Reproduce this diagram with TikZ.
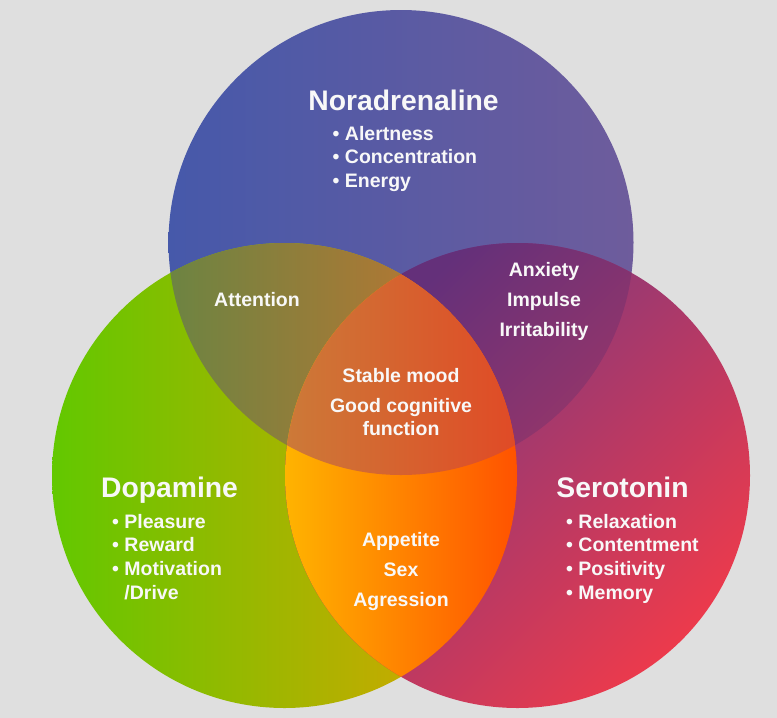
\documentclass[tikz,border=0pt]{standalone}
\usepackage{fontspec}
\setmainfont{Liberation Sans}
\usetikzlibrary{positioning}

% 色の定義
\definecolor{bgGray}{RGB}{223,223,223}
\definecolor{norLeft}{RGB}{70,89,170}
\definecolor{norRight}{RGB}{110,92,156}
\definecolor{dopLeft}{RGB}{98,200,0}
\definecolor{dopRight}{RGB}{226,162,0}
\definecolor{serTop}{RGB}{108,56,134}
\definecolor{serBottom}{RGB}{236,58,76}
\definecolor{ndLeft}{RGB}{108,132,66}
\definecolor{ndRight}{RGB}{174,120,52}
\definecolor{nsTop}{RGB}{100,48,122}
\definecolor{nsBottom}{RGB}{154,54,104}
\definecolor{dsLeft}{RGB}{255,180,0}
\definecolor{dsRight}{RGB}{255,82,0}
\definecolor{allLeft}{RGB}{204,122,56}
\definecolor{allRight}{RGB}{224,74,38}
\definecolor{txtWhite}{RGB}{248,248,248}

\begin{document}
\begin{tikzpicture}[
    x=1pt, y=-1pt,          % 画素座標そのまま（y は下向き）
    headtext/.style={font=\fontsize{28.3}{32}\selectfont\bfseries, text=txtWhite, inner sep=0pt, anchor=base},
    listtext/.style={font=\fontsize{19.5}{23.7}\selectfont\bfseries, text=txtWhite, inner sep=0pt, anchor=base west},
    midtext/.style={font=\fontsize{19.5}{23.7}\selectfont\bfseries, text=txtWhite, inner sep=0pt, anchor=base}
]

    % --- 1. 背景と円の中心 ---
    \fill [bgGray] (0, 0) rectangle (777, 718);

    \coordinate (nor) at (401, 242.5);
    \coordinate (dop) at (284.5, 475.5);
    \coordinate (ser) at (517.5, 475.5);

    % --- 2. 三つの円（グラデーション） ---
    \shade [left color=norLeft, right color=norRight] (nor) circle [radius=232.5pt];
    \shade [left color=dopLeft, right color=dopRight] (dop) circle [radius=232.5pt];
    \shade [top color=serTop, bottom color=serBottom, shading angle=45] (ser) circle [radius=232.5pt];

    % --- 3. 重なり部分 ---
    % 上と左
    \begin{scope}
        \clip (nor) circle [radius=232.5pt];
        \clip (dop) circle [radius=232.5pt];
        \shade [left color=ndLeft, right color=ndRight] (168, 243) rectangle (405, 476);
    \end{scope}
    % 上と右
    \begin{scope}
        \clip (nor) circle [radius=232.5pt];
        \clip (ser) circle [radius=232.5pt];
        \shade [top color=nsTop, bottom color=nsBottom, shading angle=45] (398, 243) rectangle (634, 476);
    \end{scope}
    % 左と右
    \begin{scope}
        \clip (dop) circle [radius=232.5pt];
        \clip (ser) circle [radius=232.5pt];
        \shade [left color=dsLeft, right color=dsRight] (284, 272) rectangle (518, 680);
    \end{scope}
    % 三つすべて
    \begin{scope}
        \clip (nor) circle [radius=232.5pt];
        \clip (dop) circle [radius=232.5pt];
        \clip (ser) circle [radius=232.5pt];
        \shade [left color=allLeft, right color=allRight] (284, 272) rectangle (518, 476);
    \end{scope}

    % --- 4. 見出しと箇条書き ---

    % 【上：Noradrenaline】
    \node [headtext] (nor_title) at (403.5, 110) {Noradrenaline};
    \node [listtext] (nor_1) at (332.5, 140) {• Alertness};
    \node [below=23.7pt of nor_1.base west, listtext] (nor_2) {• Concentration};
    \node [below=23.7pt of nor_2.base west, listtext] (nor_3) {• Energy};

    % 【左：Dopamine】
    \node [headtext] (dop_title) at (169.5, 497) {Dopamine};
    \node [listtext] (dop_1) at (112, 528) {• Pleasure};
    \node [below=23.7pt of dop_1.base west, listtext] (dop_2) {• Reward};
    \node [below=23.7pt of dop_2.base west, listtext] (dop_3) {• Motivation};
    \node [below=23.7pt of dop_3.base west, listtext] (dop_4) {\phantom{• }/Drive};

    % 【右：Serotonin】
    \node [headtext] (ser_title) at (622.5, 497) {Serotonin};
    \node [listtext] (ser_1) at (566, 528) {• Relaxation};
    \node [below=23.7pt of ser_1.base west, listtext] (ser_2) {• Contentment};
    \node [below=23.7pt of ser_2.base west, listtext] (ser_3) {• Positivity};
    \node [below=23.7pt of ser_3.base west, listtext] (ser_4) {• Memory};

    % --- 5. 重なり部分のラベル ---
    \node [midtext] (attention) at (257, 306) {Attention};

    \node [midtext] (anxiety) at (544, 276) {Anxiety};
    \node [below=30pt of anxiety.base, midtext] (impulse) {Impulse};
    \node [below=30pt of impulse.base, midtext] (irritability) {Irritability};

    \node [midtext] (stable) at (401, 382) {Stable mood};
    \node [below=30pt of stable.base, midtext] (good) {Good cognitive};
    \node [below=23.7pt of good.base, midtext] (function) {function};

    \node [midtext] (appetite) at (401, 546) {Appetite};
    \node [below=30pt of appetite.base, midtext] (sex) {Sex};
    \node [below=30pt of sex.base, midtext] (agression) {Agression};

\end{tikzpicture}
\end{document}
